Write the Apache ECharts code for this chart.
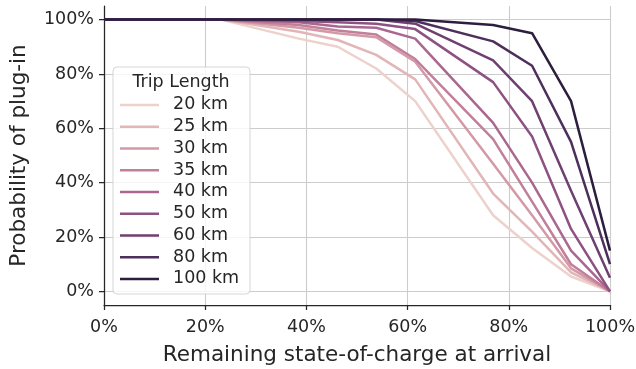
<!DOCTYPE html>
<html>
<head>
<meta charset="utf-8">
<script src="https://cdn.jsdelivr.net/npm/echarts@6/dist/echarts.min.js"></script>
<style>
  html, body { margin: 0; padding: 0; background: #fff; }
  #chart { width: 636px; height: 369px; }
</style>
</head>
<body>
<div id="chart"></div>
<script>
// state of charge at arrival (%), x positions of the curve vertices
const soc = [0, 23.1, 38.5, 46.2, 53.8, 61.5, 76.9, 84.6, 92.3, 100];

// trip lengths (legend) and plug-in probability (%) per trip length
const trips = ['20 km', '25 km', '30 km', '35 km', '40 km', '50 km', '60 km', '80 km', '100 km'];
const p20  = [100, 100, 93,   90,   82,   70,   28, 16, 5.5, 0];
const p25  = [100, 100, 95.5, 92.5, 87,   78,   36, 22, 7,   0];
const p30  = [100, 100, 97,   95,   93.5, 84.5, 47, 28, 8.5, 0];
const p35  = [100, 100, 98,   96,   94.5, 85.5, 56, 33, 10,  0];
const p40  = [100, 100, 99,   97.5, 97,   93,   62, 40, 15,  0];
const p50  = [100, 100, 99.5, 99,   98.5, 96.5, 77, 57, 23,  0];
const p60  = [100, 100, 100,  100,  100,  98.5, 85, 70, 37,  5];
const p80  = [100, 100, 100,  100,  100,  99.5, 92, 83, 55,  10];
const p100 = [100, 100, 100,  100,  100,  100,  98, 95, 70,  15];
const probs = [p20, p25, p30, p35, p40, p50, p60, p80, p100];

// tick labels
const xTicks = [0, 20, 40, 60, 80, 100];
const yTicks = [0, 20, 40, 60, 80, 100];

// seaborn cubehelix_palette (start 0, rot .4, light .85, dark .15)
function cubehelix(x) {
  const a = 0.8 * x * (1 - x) / 2;
  const phi = 2 * Math.PI * (0.4 * x);
  const c = Math.cos(phi), s = Math.sin(phi);
  const ch = v => Math.round(Math.min(1, Math.max(0, v)) * 255);
  const r = ch(x + a * (-0.14861 * c + 1.78277 * s));
  const g = ch(x + a * (-0.29227 * c - 0.90649 * s));
  const b = ch(x + a * (1.97294 * c));
  return 'rgb(' + r + ',' + g + ',' + b + ')';
}
const colors = trips.map((t, i) => cubehelix(0.85 - 0.7 * i / (trips.length - 1)));

const chart = echarts.init(document.getElementById('chart'));
const font = 'DejaVu Sans';
const ink = '#262626';

const series = trips.map((name, i) => ({
  name: name,
  type: 'line',
  showSymbol: false,
  symbol: 'none',
  data: soc.map((x, j) => [x, probs[i][j]]),
  lineStyle: { width: 2.5, color: colors[i] },
  itemStyle: { color: colors[i] },
  z: 2 + i * 0.01
}));

const option = {
  animation: false,
  color: colors,
  grid: { left: 104, right: 26, top: 6, bottom: 64, outerBoundsMode: 'none', containLabel: false },
  xAxis: {
    type: 'value',
    min: 0,
    max: 100,
    interval: 20,
    name: 'Remaining state-of-charge at arrival',
    nameLocation: 'middle',
    nameGap: 39,
    nameTextStyle: { fontFamily: font, fontSize: 21.5, color: ink },
    axisLine: { show: true, onZero: false, lineStyle: { color: ink, width: 1.25 } },
    axisTick: { show: true, length: 5, lineStyle: { color: ink, width: 1.25 } },
    axisLabel: {
      margin: 13,
      fontFamily: font, fontSize: 17.5, color: ink,
      formatter: v => (xTicks.includes(v) ? v + '%' : '')
    },
    splitLine: { show: true, lineStyle: { color: '#cccccc', width: 1.1 } }
  },
  yAxis: {
    type: 'value',
    min: -5,
    max: 105,
    name: 'Probability of plug-in',
    nameLocation: 'middle',
    nameGap: 74,
    nameTextStyle: { fontFamily: font, fontSize: 21.5, color: ink },
    axisLine: { show: true, onZero: false, lineStyle: { color: ink, width: 1.25 } },
    axisTick: { show: true, length: 5, customValues: yTicks, lineStyle: { color: ink, width: 1.25 } },
    axisLabel: {
      margin: 10,
      customValues: yTicks,
      fontFamily: font, fontSize: 17.5, color: ink,
      formatter: v => v + '%'
    },
    splitLine: { show: true, lineStyle: { color: '#cccccc', width: 1.1 } }
  },
  legend: {
    orient: 'vertical',
    left: 120,
    top: 94,
    padding: 0,
    itemGap: 0,
    itemWidth: 39,
    itemHeight: 2.5,
    icon: 'rect',
    z: 10,
    data: trips,
    textStyle: {
      fontFamily: font, fontSize: 17.5, color: ink,
      lineHeight: 21.75,
      padding: [0, 0, 0, 9]
    }
  },
  graphic: [
    {
      type: 'rect',
      z: 8,
      shape: { x: 113, y: 67, width: 137, height: 227, r: 4 },
      style: { fill: 'rgba(255,255,255,0.8)', stroke: 'rgba(204,204,204,0.8)', lineWidth: 1 }
    },
    {
      type: 'text',
      z: 11,
      x: 181,
      y: 82,
      style: {
        text: 'Trip Length',
        fontFamily: font, fontSize: 17.5, fill: ink,
        align: 'center', verticalAlign: 'middle'
      }
    }
  ],
  series: series
};

chart.setOption(option);
</script>
</body>
</html>
